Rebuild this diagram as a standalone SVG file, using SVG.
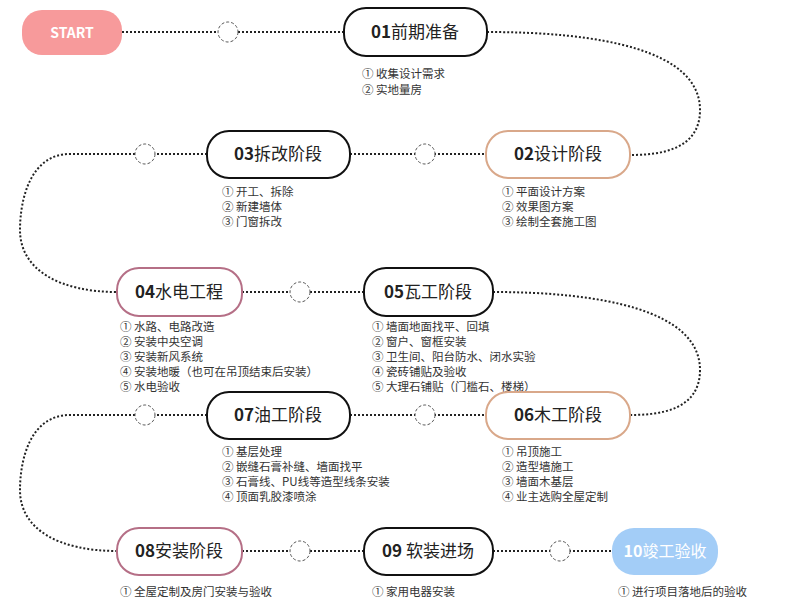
<svg xmlns="http://www.w3.org/2000/svg" width="800" height="600" viewBox="0 0 800 600">
<style>
.n{fill:#fff;stroke:#111;stroke-width:2}
.t{font-family:"Noto Sans CJK SC",sans-serif;font-size:17px;fill:#222;text-anchor:middle}
.b{font-weight:bold}
.l{font-family:"Noto Sans CJK SC",sans-serif;font-size:11.5px;fill:#333}
.c{fill:none;stroke:#222;stroke-width:2;stroke-dasharray:2 2}
.d{fill:#fff;stroke:#555;stroke-width:1;stroke-dasharray:3 2}
</style>
<rect width="800" height="600" fill="#fff"/>
<g id="connectors">
<path class="c" d="M122 32H344"/>
<path class="c" d="M487 32C600 32 700 50 700 110C700 150 660 155 630 155"/>
<path class="c" d="M350 154H486"/>
<path class="c" d="M207 154H70C30 154 20 200 20 230C20 270 60 292 117 292"/>
<path class="c" d="M242 292H364"/>
<path class="c" d="M493 292C600 292 700 310 700 370C700 410 660 415 630 415"/>
<path class="c" d="M350 415H486"/>
<path class="c" d="M207 415H70C30 415 20 460 20 490C20 530 60 551 117 551"/>
<path class="c" d="M242 551H364"/>
<path class="c" d="M493 551H612"/>
<circle class="d" cx="228" cy="32" r="10"/>
<circle class="d" cx="425" cy="154" r="10"/>
<circle class="d" cx="145" cy="154" r="10"/>
<circle class="d" cx="300" cy="292" r="10"/>
<circle class="d" cx="425" cy="415" r="10"/>
<circle class="d" cx="145" cy="415" r="10"/>
<circle class="d" cx="300" cy="551" r="10"/>
<circle class="d" cx="560" cy="551" r="10"/>
</g>
<g id="start"><rect x="22" y="10" width="100" height="45" rx="20" fill="#f79a9b"/><text x="72" y="38" class="t b" fill="#fff" style="fill:#fff;font-size:14px">START</text></g>
<g id="n01"><rect class="n" x="344" y="8" width="143" height="48" rx="22"/><text x="415" y="38" class="t"><tspan class="b">01</tspan>前期准备</text>
<text class="l" x="362" y="78">① 收集设计需求</text><text class="l" x="362" y="94">② 实地量房</text></g>
<g id="n02"><rect class="n" style="stroke:#d9a88a" x="486" y="131" width="144" height="47" rx="22"/><text x="558" y="160" class="t"><tspan class="b">02</tspan>设计阶段</text>
<text class="l" x="502" y="196">① 平面设计方案</text><text class="l" x="502" y="211">② 效果图方案</text><text class="l" x="502" y="226">③ 绘制全套施工图</text></g>
<g id="n03"><rect class="n" x="207" y="131" width="143" height="47" rx="22"/><text x="278" y="160" class="t"><tspan class="b">03</tspan>拆改阶段</text>
<text class="l" x="222" y="196">① 开工、拆除</text><text class="l" x="222" y="211">② 新建墙体</text><text class="l" x="222" y="226">③ 门窗拆改</text></g>
<g id="n04"><rect class="n" style="stroke:#b56f86" x="117" y="268" width="125" height="48" rx="22"/><text x="179" y="298" class="t"><tspan class="b">04</tspan>水电工程</text>
<text class="l" x="120" y="331">① 水路、电路改造</text><text class="l" x="120" y="346">② 安装中央空调</text><text class="l" x="120" y="361">③ 安装新风系统</text><text class="l" x="120" y="376">④ 安装地暖（也可在吊顶结束后安装）</text><text class="l" x="120" y="391">⑤ 水电验收</text></g>
<g id="n05"><rect class="n" x="364" y="268" width="129" height="48" rx="22"/><text x="428" y="298" class="t"><tspan class="b">05</tspan>瓦工阶段</text>
<text class="l" x="372" y="331">① 墙面地面找平、回填</text><text class="l" x="372" y="346">② 窗户、窗框安装</text><text class="l" x="372" y="361">③ 卫生间、阳台防水、闭水实验</text><text class="l" x="372" y="376">④ 瓷砖铺贴及验收</text><text class="l" x="372" y="391">⑤ 大理石铺贴（门槛石、楼梯）</text></g>
<g id="n06"><rect class="n" style="stroke:#d9a88a" x="486" y="392" width="144" height="47" rx="22"/><text x="558" y="421" class="t"><tspan class="b">06</tspan>木工阶段</text>
<text class="l" x="502" y="456">① 吊顶施工</text><text class="l" x="502" y="471">② 造型墙施工</text><text class="l" x="502" y="486">③ 墙面木基层</text><text class="l" x="502" y="501">④ 业主选购全屋定制</text></g>
<g id="n07"><rect class="n" x="207" y="392" width="143" height="47" rx="22"/><text x="278" y="421" class="t"><tspan class="b">07</tspan>油工阶段</text>
<text class="l" x="222" y="456">① 基层处理</text><text class="l" x="222" y="471">② 嵌缝石膏补缝、墙面找平</text><text class="l" x="222" y="486">③ 石膏线、PU线等造型线条安装</text><text class="l" x="222" y="501">④ 顶面乳胶漆喷涂</text></g>
<g id="n08"><rect class="n" style="stroke:#b56f86" x="117" y="528" width="125" height="47" rx="22"/><text x="179" y="557" class="t"><tspan class="b">08</tspan>安装阶段</text>
<text class="l" x="120" y="596">① 全屋定制及房门安装与验收</text></g>
<g id="n09"><rect class="n" x="364" y="528" width="129" height="47" rx="22"/><text x="428" y="557" class="t"><tspan class="b">09</tspan> 软装进场</text>
<text class="l" x="372" y="596">① 家用电器安装</text></g>
<g id="n10"><rect x="612" y="528" width="106" height="47" rx="22" fill="#a3cdf7"/><text x="665" y="557" class="t" style="fill:#fff;font-size:16px"><tspan class="b">10</tspan>竣工验收</text>
<text class="l" x="618" y="596">① 进行项目落地后的验收</text></g>
</svg>
